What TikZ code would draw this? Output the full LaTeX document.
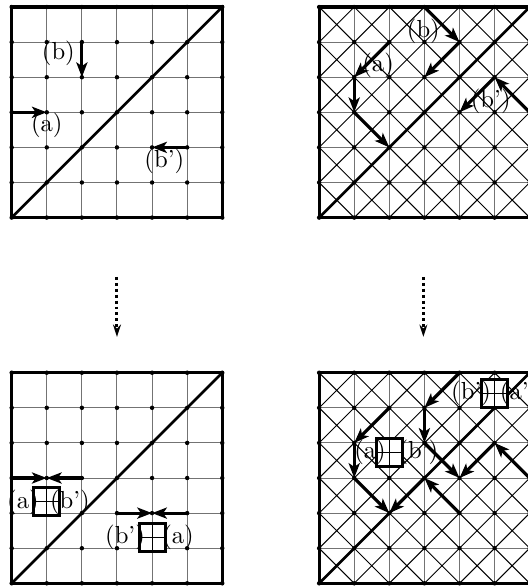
\documentclass[tikz,border=0pt]{standalone}
\usepackage{tikz}
\usetikzlibrary{arrows.meta}

% one 6x6 lattice with its diagonal
\newcommand{\gridpanel}{%
  \draw[gridline] (0,0) grid[step=1] (6,6);
  \foreach \i in {0,...,6}
    \foreach \j in {0,...,6}
      \fill (\i,\j) circle (0.9pt);
  \draw[frame] (0,0) rectangle (6,6);
  \draw[diagline] (0,0) -- (6,6);
}
% same lattice, every cell crossed
\newcommand{\crosspanel}{%
  \foreach \i in {0,...,5}
    \foreach \j in {0,...,5}
      \draw[crossline] (\i,\j) -- ++(1,1) (\i+1,\j) -- ++(-1,1);
  \gridpanel
}

\begin{document}
\begin{tikzpicture}[
  x=0.5cm, y=0.5cm,
  gridline/.style={draw=black!55, line width=0.4pt},
  crossline/.style={draw=black, line width=0.4pt},
  frame/.style={line width=1.3pt},
  diagline/.style={line width=1.1pt},
  walk/.style={-{Stealth[length=6pt,width=4.5pt,inset=1.5pt]}, line width=1.3pt},
  flow/.style={-{Stealth[length=5pt,width=3.2pt]}, line width=1.2pt, dash pattern=on 1.2pt off 1.2pt},
  lab/.style={inner sep=0pt},
  meet/.style={draw, fill=white, line width=1.2pt, minimum width=0.37cm, minimum height=0.4cm, inner sep=0pt,
    path picture={\draw[line width=0.4pt] (path picture bounding box.north) -- (path picture bounding box.south)
      (path picture bounding box.west) -- (path picture bounding box.east);}}
]
\useasboundingbox (-0.333,-0.077) rectangle (14.71,16.62);

% Top left: plain lattice
\begin{scope}[shift={(0,10.42)}]
  \gridpanel
  \draw[walk] (0,3) -- (1,3);
  \draw[walk] (2,5) -- (2,4);
  \draw[walk] (5,2) -- (4,2);
  \node[lab] (tl-a) at (1,2.64) {(a)};
  \node[lab] (tl-b) at (1.33,4.68) {(b)};
  \node[lab] (tl-bp) at (4.35,1.59) {(b')};
\end{scope}

% Top right: crossed lattice
\begin{scope}[shift={(8.76,10.42)}]
  \crosspanel
  \draw[walk] (2,5) -- (1,4);
  \draw[walk] (1,4) -- (1,3);
  \draw[walk] (1,3) -- (2,2);
  \draw[walk] (3,6) -- (4,5);
  \draw[walk] (4,5) -- (3,4);
  \draw[walk] (6,3) -- (5,4);
  \draw[walk] (5,4) -- (4,3);
  \node[lab] (tr-b) at (2.97,5.31) {(b)};
  \node[lab] (tr-a) at (1.68,4.35) {(a)};
  \node[lab] (tr-bp) at (4.89,3.32) {(b')};
\end{scope}

% Bottom left: joined walks
\begin{scope}
  \gridpanel
  \draw[walk] (0,3) -- (1,3);
  \draw[walk] (2,3) -- (1,3);
  \draw[walk] (3,2) -- (4,2);
  \draw[walk] (5,2) -- (4,2);
  \node[meet] (bl-m1) at (1,2.32) {};
  \node[lab] (bl-a1) at (0.32,2.32) {(a)};
  \node[lab] (bl-b1) at (1.66,2.32) {(b')};
  \node[meet] (bl-m2) at (4,1.3) {};
  \node[lab] (bl-b2) at (3.23,1.3) {(b')};
  \node[lab] (bl-a2) at (4.74,1.3) {(a)};
\end{scope}

% Bottom right: joined walks on crossed lattice
\begin{scope}[shift={(8.76,0)}]
  \crosspanel
  \draw[walk] (2,5) -- (1,4);
  \draw[walk] (1,4) -- (1,3);
  \draw[walk] (1,3) -- (2,2);
  \draw[walk] (4,2) -- (3,3);
  \draw[walk] (3,3) -- (2,2);
  \draw[walk] (4,6) -- (3,5);
  \draw[walk] (3,5) -- (3,4);
  \draw[walk] (3,4) -- (4,3);
  \draw[walk] (6,3) -- (5,4);
  \draw[walk] (5,4) -- (4,3);
  \node[meet] (br-m1) at (2,3.72) {};
  \node[lab] (br-a1) at (1.45,3.72) {(a)};
  \node[lab] (br-b1) at (2.83,3.72) {(b')};
  \node[meet] (br-m2) at (5,5.4) {};
  \node[lab] (br-b2) at (4.33,5.4) {(b')};
  \node[lab] (br-a2) at (5.7,5.4) {(a')};
\end{scope}

% dotted links between rows
\coordinate (tl-out) at (3,8.73);
\coordinate (bl-in) at (3,7.02);
\coordinate (tr-out) at (11.73,8.73);
\coordinate (br-in) at (11.73,7.02);
\draw[flow] (tl-out) -- (bl-in);
\draw[flow] (tr-out) -- (br-in);
\end{tikzpicture}
\end{document}
